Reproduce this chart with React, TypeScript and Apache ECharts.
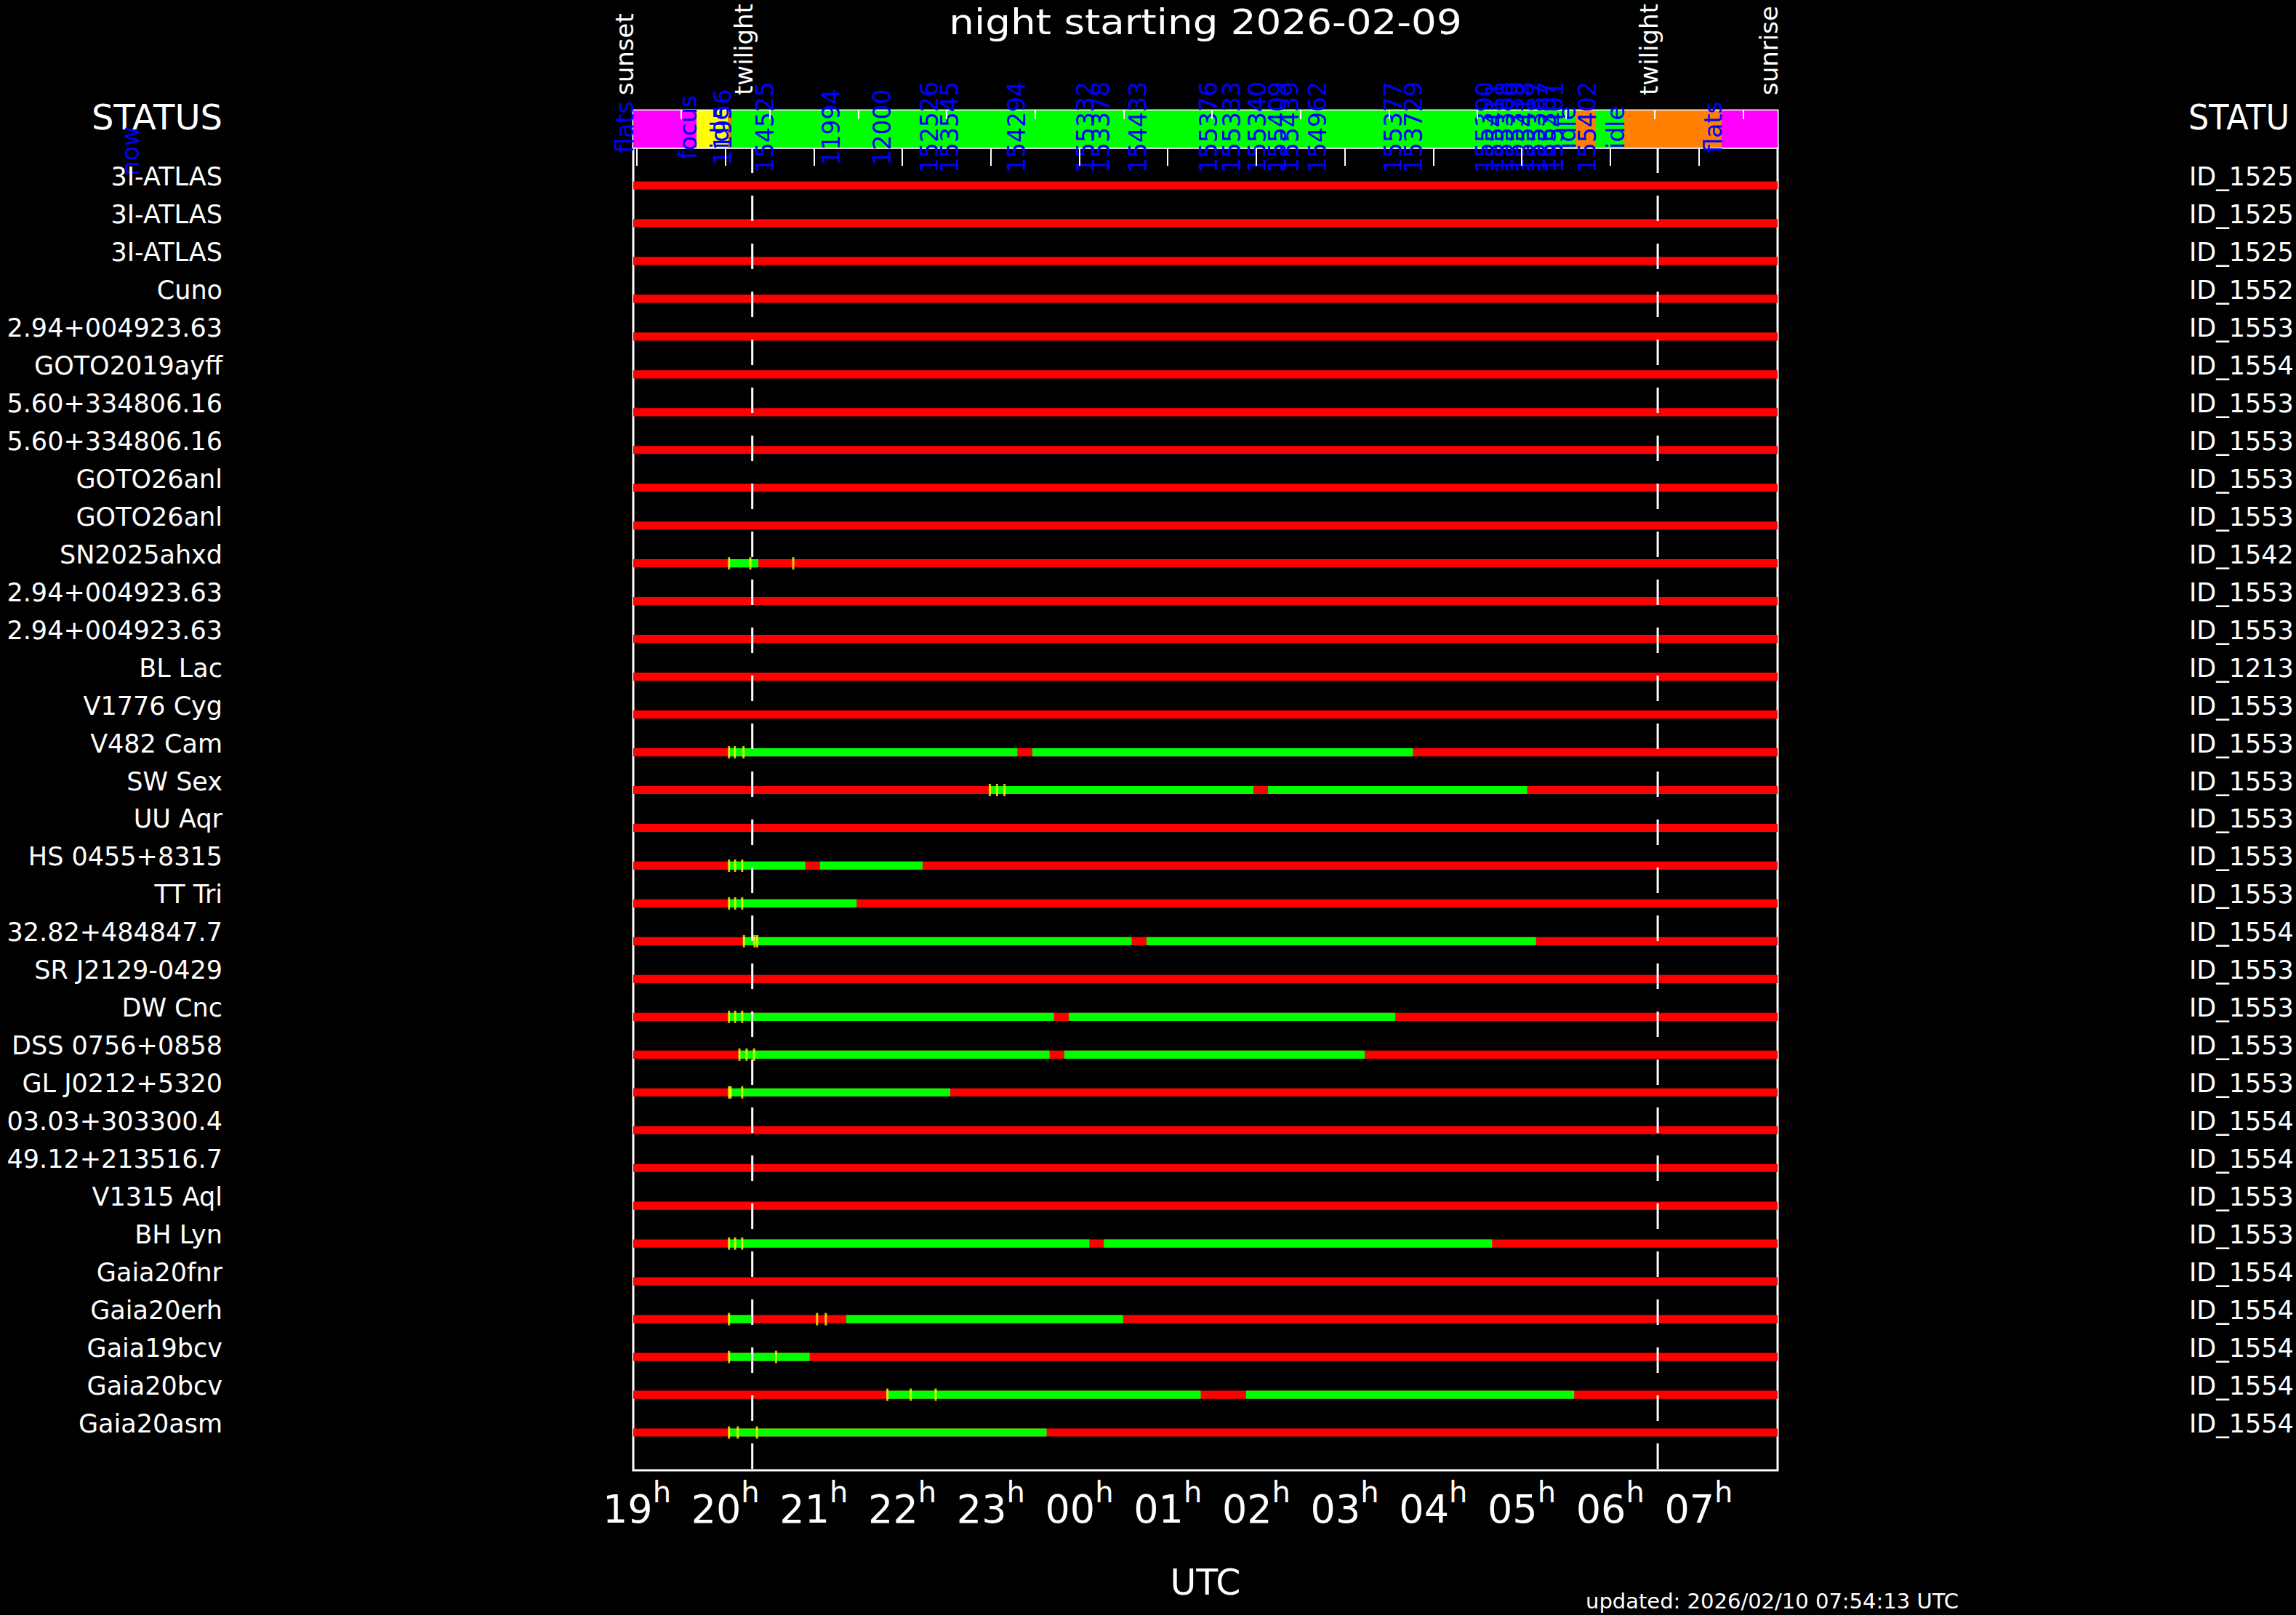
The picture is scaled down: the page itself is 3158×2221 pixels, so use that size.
import React, { useEffect, useRef } from 'react';
import * as echarts from 'echarts';

const FONT = '"DejaVu Sans", sans-serif';

// time axis in hours UTC, continuing past midnight (24 = 00h, 31 = 07h)
const nightStart = 18.959; // sunset
const nightEnd = 31.892; // sunrise
const twilightTimes = [20.304, 30.537];
const sunTimes = [18.959, 20.304, 30.537, 31.892];
const sunLabels = ['sunset', 'twilight', 'twilight', 'sunrise'];

const hourTicks = [19, 20, 21, 22, 23, 24, 25, 26, 27, 28, 29, 30, 31];
const halfHourTicks = [19.5, 20.5, 21.5, 22.5, 23.5, 24.5, 25.5, 26.5, 27.5, 28.5, 29.5, 30.5, 31.5];

const rowNames = [
  '3I-ATLAS', '3I-ATLAS', '3I-ATLAS', 'Cuno', '2.94+004923.63', 'GOTO2019ayff',
  '5.60+334806.16', '5.60+334806.16', 'GOTO26anl', 'GOTO26anl', 'SN2025ahxd',
  '2.94+004923.63', '2.94+004923.63', 'BL Lac', 'V1776 Cyg', 'V482 Cam', 'SW Sex',
  'UU Aqr', 'HS 0455+8315', 'TT Tri', '32.82+484847.7', 'SR J2129-0429', 'DW Cnc',
  'DSS 0756+0858', 'GL J0212+5320', '03.03+303300.4', '49.12+213516.7', 'V1315 Aql',
  'BH Lyn', 'Gaia20fnr', 'Gaia20erh', 'Gaia19bcv', 'Gaia20bcv', 'Gaia20asm',
];
const rowIds = [
  'ID_1525', 'ID_1525', 'ID_1525', 'ID_1552', 'ID_1553', 'ID_1554', 'ID_1553', 'ID_1553',
  'ID_1553', 'ID_1553', 'ID_1542', 'ID_1553', 'ID_1553', 'ID_1213', 'ID_1553', 'ID_1553',
  'ID_1553', 'ID_1553', 'ID_1553', 'ID_1553', 'ID_1554', 'ID_1553', 'ID_1553', 'ID_1553',
  'ID_1553', 'ID_1554', 'ID_1554', 'ID_1553', 'ID_1553', 'ID_1554', 'ID_1554', 'ID_1554',
  'ID_1554', 'ID_1554',
];
const rowNumbers = rowNames.map((_, i) => i + 1);

// [row, start, end] observable windows (green)
const observableWindows: [number, number, number][] = [
  [11, 20.044, 20.372],
  [16, 20.04, 23.3], [16, 23.469, 27.771],
  [17, 22.99, 25.968], [17, 26.133, 29.062],
  [19, 20.04, 20.904], [19, 21.069, 22.228],
  [20, 20.04, 21.483],
  [21, 20.2, 24.591], [21, 24.76, 29.161],
  [23, 20.04, 23.714], [23, 23.882, 27.572],
  [24, 20.16, 23.664], [24, 23.83, 27.225],
  [25, 20.04, 22.542],
  [29, 20.04, 24.114], [29, 24.277, 28.665],
  [31, 20.04, 20.29], [31, 21.367, 24.495],
  [32, 20.04, 20.953],
  [33, 21.831, 25.372], [33, 25.885, 29.593],
  [34, 20.04, 23.631],
];

// [time, row] exposures (yellow ticks)
const exposureMarks: [number, number][] = [
  [20.041, 11], [20.282, 11], [20.767, 11],
  [20.041, 16], [20.107, 16], [20.205, 16],
  [22.989, 17], [23.07, 17], [23.155, 17],
  [20.041, 19], [20.11, 19], [20.19, 19],
  [20.041, 20], [20.11, 20], [20.19, 20],
  [20.21, 21], [20.33, 21], [20.36, 21],
  [20.041, 23], [20.11, 23], [20.19, 23],
  [20.159, 24], [20.24, 24], [20.325, 24],
  [20.041, 25], [20.06, 25], [20.19, 25],
  [20.041, 29], [20.11, 29], [20.19, 29],
  [20.041, 31], [21.036, 31], [21.135, 31],
  [20.041, 32], [20.573, 32],
  [21.831, 33], [22.095, 33], [22.377, 33],
  [20.041, 34], [20.14, 34], [20.357, 34],
];

// schedule strip
const scheduleStarts = [18.959, 19.674, 20.033, 20.066, 29.608, 29.838, 30.158, 31.259];
const scheduleEnds = [19.674, 20.033, 20.066, 29.608, 29.838, 30.158, 31.259, 31.892];
const scheduleKinds = [0, 1, 2, 3, 2, 3, 2, 0];
const kindColors = ['#ff00ff', '#ffff00', '#ff8000', '#00ff00'];

const scheduleLabelTimes = [
  18.959, 19.674, 20.033, 20.066, 20.54, 21.29, 21.87, 22.4, 22.63, 23.39, 24.17, 24.34,
  24.76, 25.56, 25.82, 26.11, 26.34, 26.48, 26.79, 27.64, 27.87, 28.68, 28.795, 28.9,
  29.025, 29.14, 29.263, 29.386, 29.47, 29.608, 29.838, 30.158, 31.259,
];
const scheduleLabelTexts = [
  'flats', 'focus', 'idle', '11956', '154525', '11994', '12000', '152526', '153545',
  '154294', '155332', '153378', '154433', '155376', '155333', '155340', '155409',
  '155439', '154962', '155377', '153729', '155390', '155411', '155388', '155339',
  '155418', '155387', '155307', '155401', 'idle', '155402', 'idle', 'flats',
];

const pad2 = (v: number) => String(Math.round(v) % 24).padStart(2, '0');

export default function App() {
  const ref = useRef<HTMLDivElement>(null);
  useEffect(() => {
    document.body.style.margin = '0';
    document.body.style.background = '#000';
    const chart = echarts.init(ref.current!, null, { renderer: 'svg' });

    const barItem = (color: string) => (params: any, api: any) => {
      const row = api.value(0);
      const p1 = api.coord([api.value(1), row]);
      const p2 = api.coord([api.value(2), row]);
      const h = api.size([0, 1])[1] * 0.215;
      return {
        type: 'rect',
        shape: { x: p1[0], y: p1[1] - h / 2, width: p2[0] - p1[0], height: h },
        style: { fill: color },
      };
    };

    const xBase = { type: 'value', min: nightStart, max: nightEnd, splitLine: { show: false } };

    const option: any = {
      animation: false,
      backgroundColor: '#000',
      grid: [
        { left: 871, top: 203, width: 1574, height: 1819, show: true, borderColor: '#fff', borderWidth: 3, backgroundColor: '#000', containLabel: false, outerBoundsMode: 'none' },
        { left: 871, top: 152, width: 1574, height: 51, show: true, borderColor: '#fff', borderWidth: 3, containLabel: false, outerBoundsMode: 'none' },
      ],
      xAxis: [
        {
          ...xBase, gridIndex: 0, position: 'bottom',
          axisLine: { show: false },
          axisTick: { show: true, inside: true, length: 27, customValues: hourTicks, lineStyle: { color: '#fff', width: 2 } },
          axisLabel: {
            show: true, customValues: hourTicks, margin: 20,
            formatter: (v: number) => `{d|${pad2(v)}}{h|h}`,
            rich: {
              d: { fontSize: 54, fontFamily: FONT, color: '#fff', verticalAlign: 'bottom', lineHeight: 60 },
              h: { fontSize: 40, fontFamily: FONT, color: '#fff', verticalAlign: 'bottom', lineHeight: 44, padding: [0, 0, 30, 0] },
            },
          },
          name: 'UTC', nameLocation: 'middle', nameGap: 154,
          nameTextStyle: { color: '#fff', fontSize: 49, fontFamily: FONT, verticalAlign: 'middle' },
        },
        {
          ...xBase, gridIndex: 0, position: 'bottom',
          axisLine: { show: false },
          axisTick: { show: true, inside: true, length: 13, customValues: halfHourTicks, lineStyle: { color: '#fff', width: 2 } },
          axisLabel: { show: false },
        },
        {
          ...xBase, gridIndex: 1, position: 'top', z: 10,
          axisLine: { show: false },
          axisTick: { show: true, inside: true, length: 25, customValues: hourTicks, lineStyle: { color: '#fff', width: 2 } },
          axisLabel: { show: false },
        },
        {
          ...xBase, gridIndex: 1, position: 'top', z: 10,
          axisLine: { show: false },
          axisTick: { show: true, inside: true, length: 12, customValues: halfHourTicks, lineStyle: { color: '#fff', width: 2 } },
          axisLabel: { show: false },
        },
      ],
      yAxis: [
        {
          type: 'value', gridIndex: 0, min: 0, max: 35, inverse: true, position: 'left',
          axisLine: { show: false }, axisTick: { show: false }, splitLine: { show: false },
          axisLabel: {
            customValues: rowNumbers, margin: 565, color: '#fff', fontSize: 35, fontFamily: FONT,
            verticalAlign: 'bottom', lineHeight: 24, formatter: (v: number) => rowNames[Math.round(v) - 1],
          },
        },
        {
          type: 'value', gridIndex: 0, min: 0, max: 35, inverse: true, position: 'right',
          axisLine: { show: false }, axisTick: { show: false }, splitLine: { show: false },
          axisLabel: {
            customValues: rowNumbers, margin: 566, color: '#fff', fontSize: 35, fontFamily: FONT,
            verticalAlign: 'bottom', lineHeight: 24, formatter: (v: number) => rowIds[Math.round(v) - 1],
          },
        },
        { type: 'value', gridIndex: 1, min: 0, max: 1, show: false },
      ],
      graphic: [
        { type: 'text', x: 1658, y: 30, scaleX: 1.14, style: { text: 'night starting 2026-02-09', fill: '#fff', fontSize: 48, fontFamily: FONT, align: 'center', verticalAlign: 'middle' } },
        { type: 'text', x: 306, y: 161, style: { text: 'STATUS', fill: '#fff', fontSize: 48, fontFamily: FONT, align: 'right', verticalAlign: 'middle' } },
        { type: 'text', x: 3010, y: 161, scaleX: 0.93, style: { text: 'STATU', fill: '#fff', fontSize: 48, fontFamily: FONT, align: 'left', verticalAlign: 'middle' } },
        { type: 'text', x: 179, y: 208, rotation: Math.PI / 2, style: { text: 'now', fill: '#0000ff', fontSize: 33, fontFamily: FONT, align: 'center', verticalAlign: 'middle' } },
        { type: 'text', x: 2181, y: 2202, style: { text: 'updated: 2026/02/10 07:54:13 UTC', fill: '#fff', fontSize: 29, fontFamily: FONT, align: 'left', verticalAlign: 'middle' } },
      ],
      series: [
        {
          type: 'custom', name: 'unobservable', xAxisIndex: 0, yAxisIndex: 0, z: 2, silent: true,
          renderItem: barItem('#ff0000'), encode: { x: [1, 2], y: 0 },
          data: rowNumbers.map((r) => [r, nightStart, nightEnd]),
        },
        {
          type: 'custom', name: 'observable', xAxisIndex: 0, yAxisIndex: 0, z: 3, silent: true,
          renderItem: barItem('#00ff00'), encode: { x: [1, 2], y: 0 },
          data: observableWindows,
        },
        {
          type: 'scatter', name: 'exposures', xAxisIndex: 0, yAxisIndex: 0, z: 4, silent: true,
          symbol: 'rect', symbolSize: [3, 17], itemStyle: { color: '#ffff00' },
          data: exposureMarks,
        },
        ...twilightTimes.map((t) => ({
          type: 'line', xAxisIndex: 0, yAxisIndex: 0, z: 5, silent: true, showSymbol: false,
          lineStyle: { color: '#fff', width: 3, type: [35, 31] },
          data: [[t, 0], [t, 35]],
        })),
        {
          type: 'custom', name: 'schedule', xAxisIndex: 2, yAxisIndex: 2, z: 2, silent: true,
          encode: { x: [0, 1] },
          renderItem: (params: any, api: any) => {
            const p1 = api.coord([api.value(0), 1]);
            const p2 = api.coord([api.value(1), 0]);
            return {
              type: 'rect',
              shape: { x: p1[0], y: p1[1], width: p2[0] - p1[0], height: p2[1] - p1[1] },
              style: { fill: kindColors[api.value(2)] },
            };
          },
          data: scheduleStarts.map((s, i) => [s, scheduleEnds[i], scheduleKinds[i]]),
        },
        {
          type: 'custom', name: 'scheduleLabels', xAxisIndex: 2, yAxisIndex: 2, z: 5, silent: true, clip: false,
          encode: { x: 0 },
          renderItem: (params: any, api: any) => {
            const p = api.coord([api.value(0), 0.55]);
            return {
              type: 'text', x: p[0] - 11.4, y: p[1], rotation: Math.PI / 2,
              style: { text: scheduleLabelTexts[params.dataIndex], fill: '#0000ff', fontSize: 33, fontFamily: FONT, align: 'center', verticalAlign: 'middle' },
            };
          },
          data: scheduleLabelTimes.map((t) => [t]),
        },
        {
          type: 'custom', name: 'sunLabels', xAxisIndex: 2, yAxisIndex: 2, z: 5, silent: true, clip: false,
          encode: { x: 0 },
          renderItem: (params: any, api: any) => {
            const p = api.coord([api.value(0), 1]);
            return {
              type: 'text', x: p[0] - 11.8, y: p[1] - 21, rotation: Math.PI / 2,
              style: { text: sunLabels[params.dataIndex], fill: '#fff', fontSize: 34, fontFamily: FONT, align: 'left', verticalAlign: 'middle' },
            };
          },
          data: sunTimes.map((t) => [t]),
        },
      ],
    };
    chart.setOption(option);
    return () => chart.dispose();
  }, []);
  return <div ref={ref} style={{ position: 'absolute', left: 0, top: 0, width: 3158, height: 2221, background: '#000' }} />;
}
